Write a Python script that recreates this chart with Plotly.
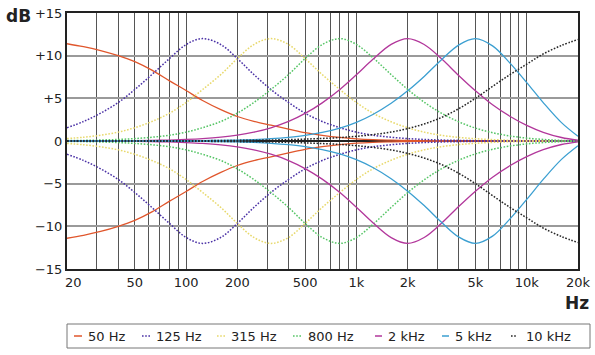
import math
import plotly.graph_objects as go

# ---------------- data ----------------
freqs = [20, 25, 31.5, 40, 50, 63, 80, 100, 125, 160, 200, 250, 315, 400, 500, 630,
         800, 1000, 1250, 1600, 2000, 2500, 3150, 4000, 5000, 6300, 8000, 10000,
         12500, 16000, 20000]

boost_50 = [11.4, 11.05, 10.6, 10.0, 9.3, 8.3, 7.05, 5.92, 4.75, 3.68, 2.87, 2.3, 1.85, 1.4,
            0.98, 0.67, 0.42, 0.26, 0.16, 0.1, 0.06, 0.04, 0.03, 0.02, 0.01, 0.0, 0.0, 0.0,
            0.0, 0.0, 0.0]
boost_125 = [1.56, 2.28, 3.26, 4.51, 6.03, 7.79, 9.66, 11.3, 12.0, 11.3, 9.66, 7.79, 6.03,
             4.51, 3.26, 2.28, 1.56, 1.04, 0.68, 0.44, 0.28, 0.18, 0.11, 0.07, 0.04, 0.03,
             0.02, 0.01, 0.0, 0.0, 0.0]
boost_315 = [0.28, 0.44, 0.68, 1.04, 1.56, 2.28, 3.26, 4.51, 6.03, 7.79, 9.66, 11.3, 12.0,
             11.3, 9.66, 7.79, 6.03, 4.51, 3.26, 2.25, 1.55, 1.04, 0.67, 0.42, 0.27, 0.16,
             0.09, 0.05, 0.03, 0.01, 0.0]
boost_800 = [0.05, 0.07, 0.11, 0.18, 0.28, 0.44, 0.68, 1.04, 1.56, 2.28, 3.26, 4.51, 6.03,
             7.79, 9.66, 11.3, 12.0, 11.32, 9.77, 7.78, 6.05, 4.55, 3.27, 2.24, 1.51, 0.97,
             0.59, 0.34, 0.18, 0.07, 0.02]
boost_2k = [0.01, 0.01, 0.02, 0.03, 0.045, 0.07, 0.11, 0.18, 0.28, 0.45, 0.68, 1.03, 1.55,
            2.29, 3.23, 4.47, 6.04, 7.76, 9.57, 11.32, 12.0, 11.31, 9.66, 7.65, 5.88, 4.24,
            2.87, 1.83, 1.02, 0.41, 0.09]
boost_5k = [0.0, 0.0, 0.0, 0.01, 0.01, 0.01, 0.02, 0.03, 0.045, 0.07, 0.11, 0.17, 0.27,
            0.43, 0.65, 1.0, 1.51, 2.19, 3.11, 4.42, 5.88, 7.57, 9.5, 11.27, 12.0, 11.15,
            9.1, 6.85, 4.5, 2.15, 0.55]
boost_10k = [0.0, 0.0, 0.0, 0.01, 0.01, 0.02, 0.02, 0.03, 0.04, 0.05, 0.07, 0.09, 0.12,
             0.16, 0.22, 0.3, 0.4, 0.55, 0.75, 1.05, 1.45, 2.0, 2.75, 3.8, 5.0, 6.4, 7.8,
             9.0, 10.2, 11.2, 11.9]

cut_50 = [-11.4, -11.05, -10.6, -10.0, -9.3, -8.3, -7.05, -5.92, -4.75, -3.68, -2.87, -2.3,
          -1.85, -1.4, -0.98, -0.67, -0.42, -0.26, -0.16, -0.1, -0.06, -0.04, -0.03, -0.02,
          -0.01, 0.0, 0.0, 0.0, 0.0, 0.0, 0.0]
cut_125 = [-1.56, -2.28, -3.26, -4.51, -6.03, -7.79, -9.66, -11.3, -12.0, -11.3, -9.66,
           -7.79, -6.03, -4.51, -3.26, -2.28, -1.56, -1.04, -0.68, -0.44, -0.28, -0.18,
           -0.11, -0.07, -0.04, -0.03, -0.02, -0.01, 0.0, 0.0, 0.0]
cut_315 = [-0.28, -0.44, -0.68, -1.04, -1.56, -2.28, -3.26, -4.51, -6.03, -7.79, -9.66,
           -11.3, -12.0, -11.3, -9.66, -7.79, -6.03, -4.51, -3.26, -2.25, -1.55, -1.04,
           -0.67, -0.42, -0.27, -0.16, -0.09, -0.05, -0.03, -0.01, 0.0]
cut_800 = [-0.05, -0.07, -0.11, -0.18, -0.28, -0.44, -0.68, -1.04, -1.56, -2.28, -3.26,
           -4.51, -6.03, -7.79, -9.66, -11.3, -12.0, -11.32, -9.77, -7.78, -6.05, -4.55,
           -3.27, -2.24, -1.51, -0.97, -0.59, -0.34, -0.18, -0.07, -0.02]
cut_2k = [-0.01, -0.01, -0.02, -0.03, -0.045, -0.07, -0.11, -0.18, -0.28, -0.45, -0.68,
          -1.03, -1.55, -2.29, -3.23, -4.47, -6.04, -7.76, -9.57, -11.32, -12.0, -11.31,
          -9.66, -7.65, -5.88, -4.24, -2.87, -1.83, -1.02, -0.41, -0.09]
cut_5k = [0.0, 0.0, 0.0, -0.01, -0.01, -0.01, -0.02, -0.03, -0.045, -0.07, -0.11, -0.17,
          -0.27, -0.43, -0.65, -1.0, -1.51, -2.19, -3.11, -4.42, -5.88, -7.57, -9.5, -11.27,
          -12.0, -11.15, -9.1, -6.85, -4.5, -2.15, -0.55]
cut_10k = [0.0, 0.0, 0.0, -0.01, -0.01, -0.02, -0.02, -0.03, -0.04, -0.05, -0.07, -0.09,
           -0.12, -0.16, -0.22, -0.3, -0.4, -0.55, -0.75, -1.05, -1.45, -2.0, -2.75, -3.8,
           -5.0, -6.4, -7.8, -9.0, -10.2, -11.2, -11.9]

series_names = ["50 Hz", "125 Hz", "315 Hz", "800 Hz", "2 kHz", "5 kHz", "10 kHz"]
series_boost = [boost_50, boost_125, boost_315, boost_800, boost_2k, boost_5k, boost_10k]
series_cut = [cut_50, cut_125, cut_315, cut_800, cut_2k, cut_5k, cut_10k]

x_tick_vals = [20, 30, 40, 50, 60, 70, 80, 90, 100, 200, 300, 400, 500, 600, 700, 800, 900,
               1000, 2000, 3000, 4000, 5000, 6000, 7000, 8000, 9000, 10000, 20000]
x_tick_labels = {20: "\u00a0\u00a0\u00a020", 50: "50", 100: "100", 200: "200", 500: "500",
                 1000: "1k", 2000: "2k", 5000: "5k", 10000: "10k", 20000: "20k"}
y_tick_vals = [-15, -10, -5, 0, 5, 10, 15]
y_tick_text = ["\u221215", "\u221210", "\u22125", "0", "+5", "+10", "+15"]

# ---------------- styles ----------------
colors = ["#e0562c", "#4b32a6", "#e8d96c", "#56c566", "#b2379b", "#3b9fd1", "#262626"]
dashes = ["solid", "1.6px,1.6px", "1.6px,1.6px", "1.6px,1.6px", "solid", "solid",
          "1.6px,1.6px"]
widths = [1.3, 1.5, 1.5, 1.5, 1.3, 1.3, 1.5]
FONT = "DejaVu Sans"
TXT = "#222222"

fig = go.Figure()
for name, b, c, col, d, w in zip(series_names, series_boost, series_cut, colors, dashes, widths):
    for ys in (b, c):
        fig.add_trace(go.Scatter(
            x=freqs, y=ys, mode="lines", name=name, showlegend=False,
            line=dict(color=col, width=w, dash=d, shape="spline", smoothing=1.0),
            hoverinfo="skip"))

L, T, W, H = 67, 13, 511, 256


def px(x):
    return (x - L) / W


def py(y):
    return (T + H - y) / H


shapes = [dict(type="rect", xref="paper", yref="paper", x0=px(67), x1=px(590),
               y0=py(348), y1=py(324), line=dict(color="#777777", width=1),
               fillcolor="rgba(0,0,0,0)")]
annotations = [
    dict(text="<b>dB</b>", xref="paper", yref="paper", x=px(18), y=py(16), xanchor="center",
         yanchor="middle", showarrow=False, font=dict(family=FONT, size=17, color=TXT)),
    dict(text="<b>Hz</b>", xref="paper", yref="paper", x=px(577), y=py(303),
         xanchor="center", yanchor="middle", showarrow=False,
         font=dict(family=FONT, size=17, color=TXT)),
]
leg_sym = [(74, 82), (142, 150), (217, 225), (293, 301), (375, 382), (442, 449), (511, 517)]
leg_txt = [86, 154, 229, 306, 386, 453, 524]
for name, col, d, (s0, s1), tx in zip(series_names, colors, dashes, leg_sym, leg_txt):
    shapes.append(dict(type="line", xref="paper", yref="paper", x0=px(s0), x1=px(s1),
                       y0=py(336), y1=py(336),
                       line=dict(color=col, width=1.5, dash=d)))
    annotations.append(dict(text=name, xref="paper", yref="paper", x=px(tx), y=py(336),
                            xanchor="left", yanchor="middle", showarrow=False,
                            font=dict(family=FONT, size=13, color=TXT)))

fig.update_layout(
    width=595, height=355, autosize=False,
    margin=dict(l=L, r=595 - L - W, t=T, b=355 - T - H, pad=0, autoexpand=False),
    paper_bgcolor="white", plot_bgcolor="white",
    font=dict(family=FONT, size=13, color=TXT),
    showlegend=False,
    shapes=shapes, annotations=annotations,
    xaxis=dict(type="log", range=[math.log10(20), math.log10(20000)],
               tickvals=x_tick_vals,
               ticktext=[x_tick_labels.get(v, "") for v in x_tick_vals],
               showgrid=True, gridcolor="#555555", gridwidth=1,
               showline=True, mirror=True, linecolor="#222222", linewidth=2,
               ticks="", tickfont=dict(family=FONT, size=13, color=TXT),
               ticklabelstandoff=0, zeroline=False, fixedrange=True, automargin=False),
    yaxis=dict(range=[-15, 15], tickvals=y_tick_vals, ticktext=y_tick_text,
               showgrid=True, gridcolor="#9a9a9a", gridwidth=2,
               zeroline=True, zerolinecolor="#222222", zerolinewidth=1.5,
               showline=True, mirror=True, linecolor="#222222", linewidth=2,
               ticks="", tickfont=dict(family=FONT, size=13, color=TXT),
               ticklabelstandoff=0, fixedrange=True, automargin=False),
)

fig.write_html("out.html")
